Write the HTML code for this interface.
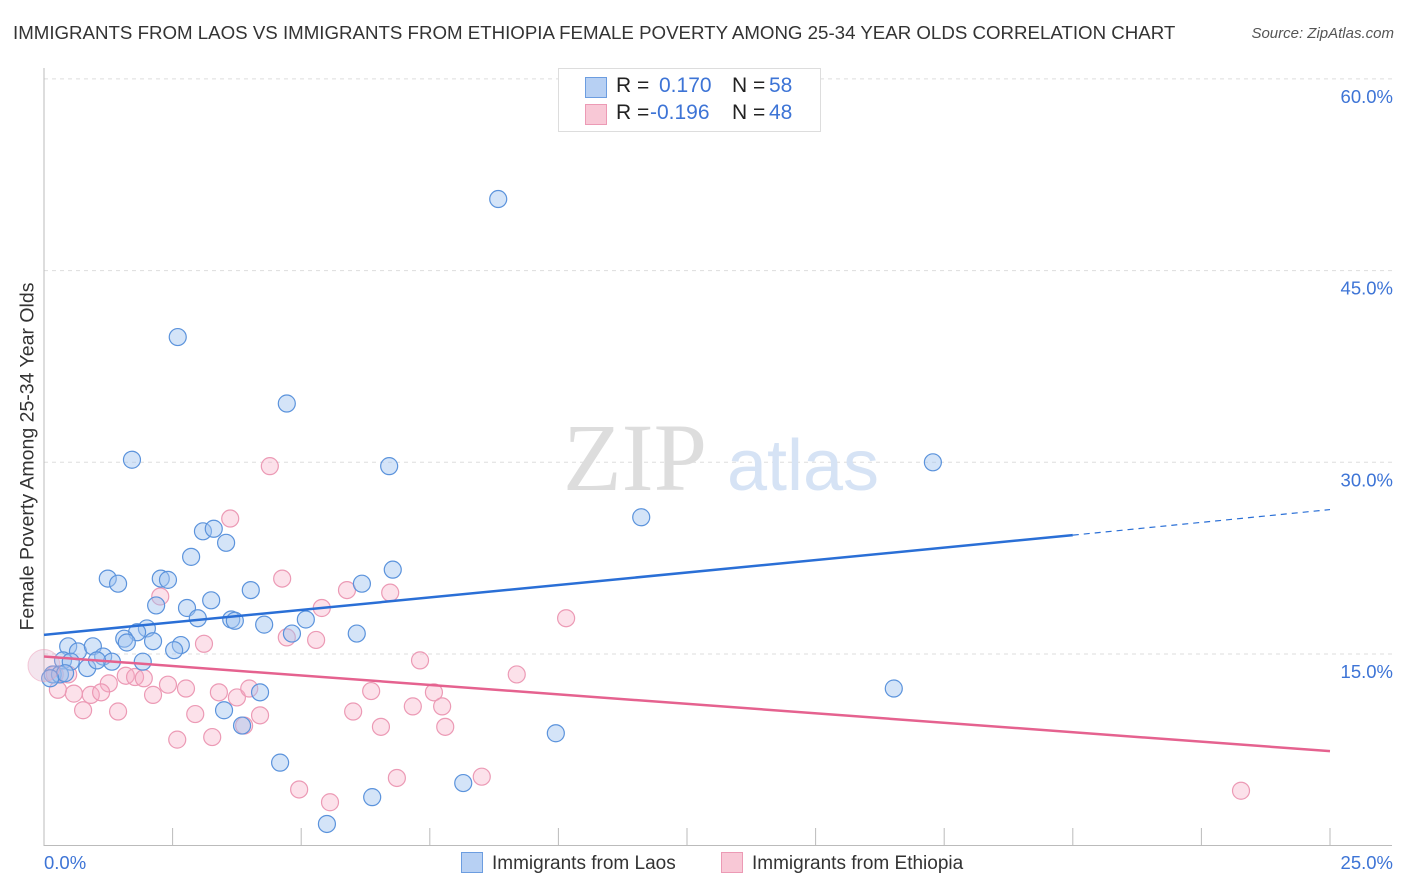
<!DOCTYPE html>
<html><head><meta charset="utf-8"><style>
body{margin:0;background:#fff;font-family:"Liberation Sans",sans-serif}
#wrap{position:relative;width:1406px;height:892px}
.t{position:absolute;white-space:nowrap}
</style></head><body>
<div id="wrap">
<div class="t" style="left:13px;top:22px;font-size:18.7px;color:#333">IMMIGRANTS FROM LAOS VS IMMIGRANTS FROM ETHIOPIA FEMALE POVERTY AMONG 25-34 YEAR OLDS CORRELATION CHART</div>
<div class="t" style="right:12px;top:25px;font-size:15px;color:#555;font-style:italic">Source: ZipAtlas.com</div>
<svg id="svg" width="1406" height="892" style="position:absolute;left:0;top:0"></svg>
</div>
<script>
const xTicks=[0,2.5,5,7.5,10,12.5,15,17.5,20,22.5,25];
const yTicks=[15,30,45,60];
const yTickLabels=["15.0%","30.0%","45.0%","60.0%"];
const laosX=[8.83,2.60,4.72,1.71,6.71,17.28,11.61,3.09,3.30,3.54,2.86,6.78,1.24,1.44,2.27,2.41,6.18,4.02,2.18,3.25,2.78,2.99,3.64,3.71,4.28,5.09,4.82,2.00,1.81,1.56,1.61,2.12,2.66,2.53,6.08,0.47,0.66,0.95,1.15,1.32,1.92,0.84,1.03,0.37,0.52,0.17,0.31,0.41,0.12,4.20,3.50,3.85,9.95,16.52,4.59,6.38,8.15,5.50];
const laosY=[50.6,39.8,34.6,30.2,29.7,30.0,25.7,24.6,24.8,23.7,22.6,21.6,20.9,20.5,20.9,20.8,20.5,20.0,18.8,19.2,18.6,17.8,17.7,17.6,17.3,17.7,16.6,17.0,16.7,16.2,15.9,16.0,15.7,15.3,16.6,15.6,15.2,15.6,14.8,14.4,14.4,13.9,14.5,14.5,14.4,13.4,13.4,13.5,13.1,12.0,10.6,9.4,8.8,12.3,6.5,3.8,4.9,1.7];
const ethX=[4.39,3.62,4.63,2.26,5.89,6.73,5.40,10.15,3.11,4.72,5.29,7.31,9.19,0.21,0.47,1.59,1.77,1.94,1.26,2.41,2.76,3.40,3.75,3.99,2.12,0.91,1.11,0.58,0.27,0.76,1.44,2.94,4.20,6.01,7.17,7.58,7.74,6.36,3.89,6.55,7.80,2.59,3.27,4.96,5.56,6.86,8.51,23.27];
const ethY=[29.7,25.6,20.9,19.5,20.0,19.8,18.6,17.8,15.8,16.3,16.1,14.5,13.4,13.4,13.4,13.3,13.2,13.1,12.7,12.6,12.3,12.0,11.6,12.3,11.8,11.8,12.0,11.9,12.2,10.6,10.5,10.3,10.2,10.5,10.9,12.0,10.9,12.1,9.4,9.3,9.3,8.3,8.5,4.4,3.4,5.3,5.4,4.3];
const laosTrend=[16.5,24.3,26.3]; // at x=0,20,25
const ethTrend=[14.8,7.4]; // at x=0,25
const X=v=>44+v/25*1286;
const Y=v=>845.7-v/15*191.7;
const svg=document.getElementById('svg');
const NS='http://www.w3.org/2000/svg';
function mk(tag,attrs){const e=document.createElementNS(NS,tag);for(const k in attrs)e.setAttribute(k,attrs[k]);svg.appendChild(e);return e;}
yTicks.forEach((v,i)=>{
 const g=mk('line',{x1:44,x2:1392,y1:Y(v),y2:Y(v),stroke:'#ddd','stroke-dasharray':'4,4'});
 
 
 const t=mk('text',{x:1393,y:Y(v)+24,'text-anchor':'end','font-size':18.5,fill:'#3d74d6','font-family':'Liberation Sans'});
 t.textContent=yTickLabels[i];
 
 
});
const ax=mk('line',{x1:44,x2:1392,y1:845.5,y2:845.5,stroke:'#bbb'});


const ay=mk('line',{x1:44,x2:44,y1:68,y2:846,stroke:'#bbb'});


xTicks.forEach(v=>{const l=mk('line',{x1:X(v),x2:X(v),y1:828,y2:846,stroke:'#bbb'});
 
 });
const w1=mk('text',{x:635,y:490,'text-anchor':'middle','font-size':96,fill:'#ddd','font-family':'Liberation Serif'});w1.textContent='ZIP';


const w2=mk('text',{x:803,y:490,'text-anchor':'middle','font-size':72,fill:'#d6e3f5','font-family':'Liberation Sans'});w2.textContent='atlas';


function pts(xs,ys,fill,stroke,name){xs.forEach((x,i)=>{const c=mk('circle',{cx:X(x),cy:Y(ys[i]),r:8.5,fill:fill,stroke:stroke,'stroke-width':1.2});
 
 });}
pts(ethX,ethY,'rgba(245,170,195,0.35)','#ec9ab5','ethiopia-point');
pts(laosX,laosY,'rgba(160,196,240,0.45)','#5b93dc','laos-point');
const big=mk('circle',{cx:X(0),cy:Y(14.1),r:16,fill:'rgba(220,170,200,0.3)',stroke:'rgba(236,154,181,0.5)'});


const l1=mk('line',{x1:X(0),y1:Y(laosTrend[0]),x2:X(20),y2:Y(laosTrend[1]),stroke:'#2a6fd6','stroke-width':2.5});


const l2=mk('line',{x1:X(20),y1:Y(laosTrend[1]),x2:X(25),y2:Y(laosTrend[2]),stroke:'#2a6fd6','stroke-width':1.2,'stroke-dasharray':'6,5'});


const l3=mk('line',{x1:X(0),y1:Y(ethTrend[0]),x2:X(25),y2:Y(ethTrend[1]),stroke:'#e5628f','stroke-width':2.5});


</script>
<div class="t" style="left:-147px;top:445px;width:350px;text-align:center;transform:rotate(-90deg);font-size:19.5px;color:#333">Female Poverty Among 25-34 Year Olds</div>
<div class="t" style="left:44px;top:852px;font-size:18.5px;color:#3d74d6">0.0%</div>
<div class="t" style="right:13px;top:852px;font-size:18.5px;color:#3d74d6">25.0%</div>
<div style="position:absolute;left:558px;top:68px;width:261px;height:62px;border:1px solid #ddd;background:#fff;font-size:21px">
 <div style="position:absolute;left:26px;top:8px;width:20px;height:19px;background:#b7d0f3;border:1px solid #6c9de0"></div>
 <div class="t" style="left:57px;top:5px;color:#222">R =</div><div class="t" style="left:100px;top:5px;color:#3d74d6">0.170</div>
 <div class="t" style="left:173px;top:5px;color:#222">N =</div><div class="t" style="left:210px;top:5px;color:#3d74d6">58</div>
 <div style="position:absolute;left:26px;top:35px;width:20px;height:19px;background:#f8c8d6;border:1px solid #ec9ab5"></div>
 <div class="t" style="left:57px;top:32px;color:#222">R =</div><div class="t" style="left:91px;top:32px;color:#3d74d6">-0.196</div>
 <div class="t" style="left:173px;top:32px;color:#222">N =</div><div class="t" style="left:210px;top:32px;color:#3d74d6">48</div>
</div>
<div style="position:absolute;left:461px;top:852px;font-size:19px;color:#333">
 <span style="display:inline-block;width:20px;height:19px;background:#b7d0f3;border:1px solid #6c9de0;vertical-align:-4px;margin-right:9px"></span>Immigrants from Laos</div>
<div style="position:absolute;left:721px;top:852px;font-size:19px;color:#333">
 <span style="display:inline-block;width:20px;height:19px;background:#f8c8d6;border:1px solid #ec9ab5;vertical-align:-4px;margin-right:9px"></span>Immigrants from Ethiopia</div>
</body></html>
